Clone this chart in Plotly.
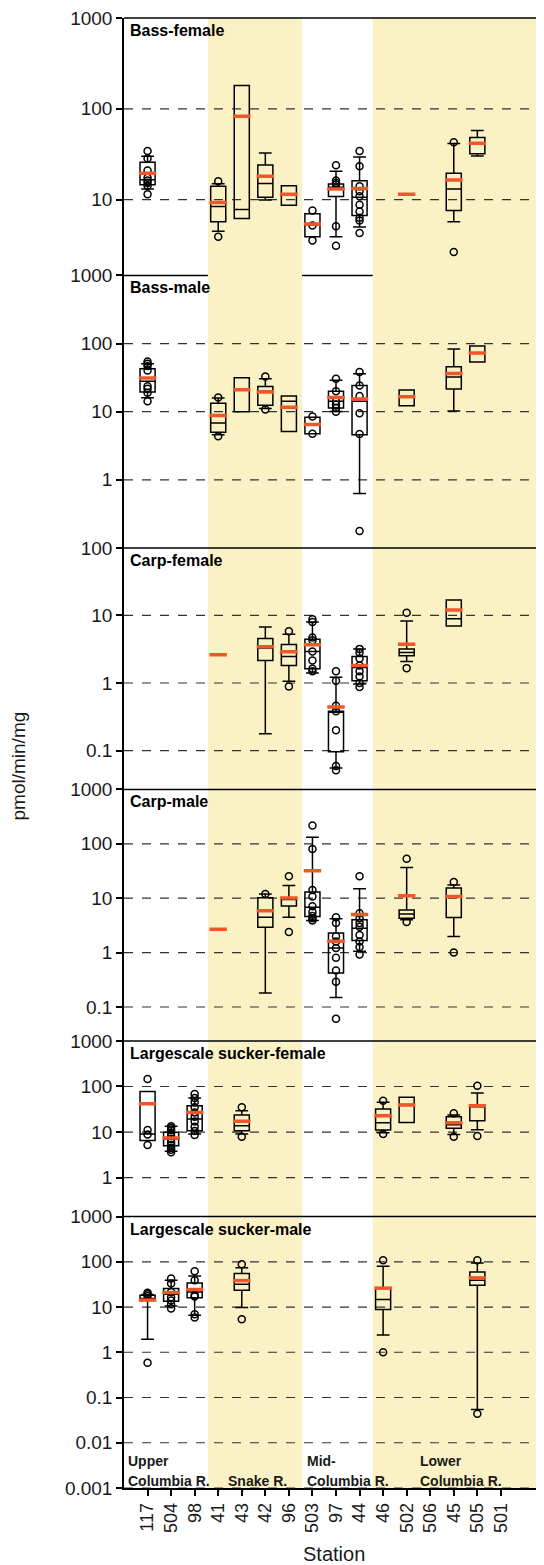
import plotly.graph_objects as go

# ---------------- data ----------------
STATIONS = ["117", "504", "98", "41", "43", "42", "96", "503", "97", "44",
            "46", "502", "506", "45", "505", "501"]

PANEL_TITLES = ["Bass-female", "Bass-male", "Carp-female", "Carp-male",
                "Largescale sucker-female", "Largescale sucker-male"]

# Bass-female
bf_station = ["117", "41", "43", "42", "96", "503", "97", "44", "502", "45", "505"]
bf_lo   = [13.1, 4.5, 6.2, 9.9, 8.7, 3.9, 3.9, 5.0, None, 5.7, 30.3]
bf_q1   = [14.6, 5.7, 6.2, 10.6, 8.7, 3.9, 10.8, 6.7, None, 7.6, 32.1]
bf_med  = [16.6, 8.4, 7.8, 15.1, 11.4, 5.3, 13.7, 10.6, None, 13.1, 41.0]
bf_q3   = [25.8, 14.0, 181, 24.1, 14.2, 7.0, 14.9, 16.1, None, 19.5, 48.3]
bf_hi   = [30.0, 15.0, 181, 32.7, 14.2, 7.0, 20.5, 29.5, None, 41.5, 57.7]
bf_mean = [19.5, 9.3, 83, 18.1, 11.5, 5.4, 13.1, 13.3, 11.5, 16.5, 41.8]
bf_pt_station = ["117"] * 8 + ["41"] * 2 + ["503"] * 3 + ["97"] * 6 + ["44"] * 10 + ["45"] * 2
bf_pt_value = [34.4, 28.3, 20.9, 17.4, 16.2, 15.3, 14.2, 11.5,
               15.9, 3.9,
               7.6, 5.2, 3.56,
               23.9, 16.2, 15.3, 14.7, 5.1, 3.1,
               34.4, 23.3, 14.0, 12.4, 10.9, 8.8, 7.4, 6.3, 5.9, 4.3,
               42.9, 2.65]

# Bass-male
bm_station = ["117", "41", "43", "42", "96", "503", "97", "44", "502", "45", "505"]
bm_lo   = [16.0, 4.6, 10.0, 11.1, 5.1, 4.75, 10.1, 0.63, 12.2, 10.2, 53.6]
bm_q1   = [19.4, 5.0, 10.0, 12.4, 5.1, 4.75, 11.3, 4.6, 12.2, 21.5, 53.6]
bm_med  = [27.9, 6.8, 21.5, 19.9, 14.2, 6.4, 14.2, 14.2, 16.8, 32.3, 73.4]
bm_q3   = [42.8, 13.3, 31.5, 23.5, 17.0, 8.3, 19.9, 24.3, 20.8, 45.7, 91.8]
bm_hi   = [50.6, 15.9, 31.5, 30.5, 17.0, 8.3, 28.9, 36.0, 20.8, 83.0, 91.8]
bm_mean = [31.2, 8.8, 21.0, 19.4, 11.6, 6.5, 16.2, 15.3, 16.6, 36.5, 72.7]
bm_pt_station = ["117"] * 8 + ["41"] * 2 + ["42"] * 2 + ["503"] * 2 + ["97"] * 6 + ["44"] * 6
bm_pt_value = [54.7, 50.6, 46.8, 40.4, 23.6, 21.7, 19.0, 14.2,
               16.2, 4.35,
               33.0, 10.8,
               8.5, 4.75,
               30.5, 19.9, 14.2, 12.7, 11.3, 10.0,
               38.2, 24.3, 17.0, 9.5, 4.7, 0.177]

# Carp-female
cf_station = ["41", "42", "96", "503", "97", "44", "502", "45"]
cf_lo   = [None, 0.177, 1.06, 1.40, 0.055, 0.97, 2.08, 7.0]
cf_q1   = [None, 2.16, 1.82, 1.63, 0.096, 1.08, 2.53, 7.0]
cf_med  = [None, 3.3, 2.47, 2.93, 0.37, 1.7, 2.83, 8.9]
cf_q3   = [None, 4.55, 3.72, 4.45, 0.38, 2.47, 3.2, 16.9]
cf_hi   = [None, 6.77, 5.28, 8.0, 1.22, 3.2, 8.3, 16.9]
cf_mean = [2.62, 3.43, 2.9, 3.67, 0.44, 1.82, 3.76, 12.0]
cf_pt_station = ["96"] * 2 + ["503"] * 8 + ["97"] * 7 + ["44"] * 8 + ["502"] * 2
cf_pt_value = [5.85, 0.89,
               8.8, 8.0, 4.7, 4.3, 2.93, 2.16, 1.63, 1.49,
               1.49, 1.08, 0.46, 0.38, 0.2, 0.059, 0.051,
               3.2, 2.8, 2.3, 1.82, 1.49, 1.25, 1.0, 0.87,
               11.0, 1.66]

# Carp-male
cm_station = ["41", "42", "96", "503", "97", "44", "502", "45"]
cm_lo   = [None, 0.18, 4.45, 3.9, 0.15, 1.06, 4.0, 1.97]
cm_q1   = [None, 2.92, 7.2, 4.6, 0.42, 1.66, 4.3, 4.4]
cm_med  = [None, 4.45, 9.5, 6.8, 1.22, 2.8, 5.1, 10.5]
cm_q3   = [None, 10.2, 10.1, 13.0, 2.3, 4.0, 6.1, 15.4]
cm_hi   = [None, 11.9, 17.2, 132, 4.2, 14.9, 36.8, 17.4]
cm_mean = [2.68, 5.9, 10.1, 32.0, 1.61, 5.0, 11.1, 10.8]
cm_pt_station = ["42"] + ["96"] * 2 + ["503"] * 9 + ["97"] * 9 + ["44"] * 9 + ["502"] * 2 + ["45"] * 2
cm_pt_value = [11.9,
               25.2, 2.4,
               217, 80, 14.1, 10.7, 7.1, 5.6, 4.7, 4.3, 3.9,
               4.45, 3.5, 2.0, 1.6, 1.22, 0.8, 0.47, 0.29, 0.061,
               25.2, 5.3, 4.3, 3.5, 3.0, 2.1, 1.6, 1.27, 0.92,
               53.0, 3.65,
               19.8, 1.0]

# Largescale sucker-female
sf_station = ["117", "504", "98", "43", "46", "502", "45", "505"]
sf_lo   = [6.5, 3.8, 9.1, 9.1, 9.7, 16.3, 8.8, 11.3]
sf_q1   = [6.5, 5.0, 10.7, 10.7, 11.1, 16.3, 12.1, 17.8]
sf_med  = [9.1, 7.0, 19.4, 13.8, 16.1, 40.0, 14.5, 36.0]
sf_q3   = [78.0, 9.9, 37.9, 23.7, 32.0, 57.8, 21.8, 37.9]
sf_hi   = [78.0, 13.4, 56.0, 29.5, 45.0, 57.8, 23.7, 72.0]
sf_mean = [42.0, 7.4, 27.0, 17.2, 22.9, 39.2, 16.1, 37.9]
sf_pt_station = ["117"] * 4 + ["504"] * 11 + ["98"] * 10 + ["43"] * 2 + ["46"] * 2 + ["45"] * 2 + ["505"] * 2
sf_pt_value = [146, 11.1, 8.8, 5.2,
               13.4, 12.2, 11.0, 9.5, 8.2, 7.0, 6.0, 5.2, 4.5, 4.1, 3.6,
               68, 56, 45, 35, 27, 21.8, 17, 13, 10.5, 8.6,
               34.9, 7.9,
               48.8, 9.1,
               25.8, 7.9,
               104, 8.2]

# Largescale sucker-male
sm_station = ["117", "504", "98", "43", "46", "505"]
sm_lo   = [1.93, 10.5, 6.6, 9.8, 2.4, 0.054]
sm_q1   = [14.2, 13.5, 16.0, 23.5, 8.8, 30.3]
sm_med  = [15.4, 19.2, 21.6, 31.9, 14.7, 39.1]
sm_q3   = [18.3, 25.6, 34.1, 54.8, 26.1, 59.6]
sm_hi   = [18.9, 39.1, 48.7, 74.3, 79.5, 94.0]
sm_mean = [14.2, 20.9, 24.4, 38.4, 26.1, 44.0]
sm_pt_station = ["117"] * 4 + ["504"] * 7 + ["98"] * 6 + ["43"] * 2 + ["46"] * 2 + ["505"] * 2
sm_pt_value = [20.6, 19.2, 17.5, 0.59,
               42.5, 33, 21.5, 16.5, 14, 11.5, 9.3,
               61.7, 39.1, 18.3, 17, 6.9, 5.9,
               88, 5.4,
               108, 1.0,
               108, 0.044]

REGION_SPANS = [("41", "96"), ("46", None)]   # shaded station groups
Y_TICKS = [[10, 100, 1000], [1, 10, 100, 1000], [0.1, 1, 10, 100],
           [0.1, 1, 10, 100, 1000], [1, 10, 100, 1000],
           [0.001, 0.01, 0.1, 1, 10, 100, 1000]]
Y_TICKTEXT = {0.001: "0.001", 0.01: "0.01", 0.1: "0.1", 1: "1", 10: "10",
              100: "100", 1000: "1000"}

PANELS = [
    (bf_station, bf_lo, bf_q1, bf_med, bf_q3, bf_hi, bf_mean, bf_pt_station, bf_pt_value),
    (bm_station, bm_lo, bm_q1, bm_med, bm_q3, bm_hi, bm_mean, bm_pt_station, bm_pt_value),
    (cf_station, cf_lo, cf_q1, cf_med, cf_q3, cf_hi, cf_mean, cf_pt_station, cf_pt_value),
    (cm_station, cm_lo, cm_q1, cm_med, cm_q3, cm_hi, cm_mean, cm_pt_station, cm_pt_value),
    (sf_station, sf_lo, sf_q1, sf_med, sf_q3, sf_hi, sf_mean, sf_pt_station, sf_pt_value),
    (sm_station, sm_lo, sm_q1, sm_med, sm_q3, sm_hi, sm_mean, sm_pt_station, sm_pt_value),
]

# ---------------- layout constants (screen pixels) ----------------
OFF = 8                      # page body margin in the browser
SCR_W, SCR_H = 544, 1565
L, T, B = 124, 15, 1488      # plot area edges on screen
W, H = SCR_W - OFF, SCR_H - OFF
PH = B - T
PW = SCR_W - L
PANEL_PX = [(15, 273), (273, 546), (546, 788), (788, 1040), (1040, 1216), (1216, 1488)]
Y_RANGES = [(0.165, 3), (-1, 3), (-1.576, 2), (-1.624, 3), (-0.854, 3), (-3, 3)]
X_RANGE = [-1.0, 16.83]
SHADE_SHIFT = 0.06

FONT = "Liberation Sans, Arial, sans-serif"
TXT = "#1a1a1a"
RED = "#F0562A"
YELLOW = "#FAF2C4"
BOX_W = 0.64
MEAN_HALF = 0.37


def idx(s):
    return STATIONS.index(s)


def py(p):
    return (B - p) / PH


def px(p):
    return (p - L) / PW


fig = go.Figure()
layout = dict(
    width=W, height=H,
    margin=dict(l=L - OFF, r=0, t=T - OFF, b=H - (B - OFF), pad=0),
    paper_bgcolor="white", plot_bgcolor="rgba(0,0,0,0)",
    showlegend=False, boxmode="overlay",
    font=dict(family=FONT, color=TXT),
)

shapes = []
annotations = []

# panel-2 top border sits beneath the shading in the original
shapes.append(dict(type="line", xref="x2 domain", yref="y2 domain", x0=0, x1=1, y0=1, y1=1,
                   line=dict(color="black", width=1.5), layer="below"))

# shaded river reaches
for a, b in REGION_SPANS:
    x0 = idx(a) - 0.5 + SHADE_SHIFT
    x1 = (idx(b) + 0.5 + SHADE_SHIFT) if b else X_RANGE[1]
    shapes.append(dict(type="rect", xref="x", yref="paper", x0=x0, x1=x1, y0=0, y1=1,
                       fillcolor=YELLOW, line=dict(width=0), layer="below"))

for i, (stn, lo, q1, med, q3, hi, mean, pst, pval) in enumerate(PANELS):
    n = i + 1
    xa = "x" if n == 1 else f"x{n}"
    ya = "y" if n == 1 else f"y{n}"
    top, bot = PANEL_PX[i]

    # dashed decade grid lines (not at the panel top)
    for v in Y_TICKS[i][:-1]:
        shapes.append(dict(type="line", xref=f"{xa} domain", yref=ya, x0=0, x1=1, y0=v, y1=v,
                           line=dict(color="#333333", width=1.2, dash="dash"), layer="below"))
    if n != 2:
        shapes.append(dict(type="line", xref=f"{xa} domain", yref=f"{ya} domain", x0=0, x1=1,
                           y0=1, y1=1, line=dict(color="black", width=1.5), layer="above"))

    # boxes
    keep = [k for k, q in enumerate(q1) if q is not None]
    fig.add_trace(go.Box(
        x=[idx(stn[k]) for k in keep],
        q1=[q1[k] for k in keep], median=[med[k] for k in keep], q3=[q3[k] for k in keep],
        lowerfence=[lo[k] for k in keep], upperfence=[hi[k] for k in keep],
        boxpoints=False, width=BOX_W, whiskerwidth=0.85,
        line=dict(color="black", width=1.5), fillcolor="rgba(0,0,0,0)",
        xaxis=xa, yaxis=ya, hoverinfo="skip"))

    # individual points
    fig.add_trace(go.Scatter(
        x=[idx(s) for s in pst], y=pval, mode="markers",
        marker=dict(symbol="circle-open", size=7, color="black", line=dict(width=1.5)),
        xaxis=xa, yaxis=ya, hoverinfo="skip"))

    # mean (red) bars
    mx, my = [], []
    for s, m in zip(stn, mean):
        c = idx(s)
        mx += [c - MEAN_HALF, c + MEAN_HALF, None]
        my += [m, m, None]
    fig.add_trace(go.Scatter(x=mx, y=my, mode="lines", line=dict(color=RED, width=3.5),
                             xaxis=xa, yaxis=ya, hoverinfo="skip"))

    last = (n == 6)
    layout[f"xaxis{'' if n == 1 else n}"] = dict(
        domain=[0, 1], range=X_RANGE, anchor=ya, type="linear",
        tickmode="array", tickvals=list(range(len(STATIONS))), ticktext=STATIONS,
        showticklabels=last, ticks="outside" if last else "", ticklen=6, tickwidth=1.5,
        tickcolor="black", tickangle=-90, tickfont=dict(size=18, family=FONT, color=TXT),
        showline=last, linecolor="black", linewidth=1.5, showgrid=False, zeroline=False,
        matches=None if n == 1 else "x", ticklabeloverflow="allow",
    )
    layout[f"yaxis{'' if n == 1 else n}"] = dict(
        domain=[py(bot), py(top)], type="log", range=list(Y_RANGES[i]), anchor=xa,
        tickmode="array", tickvals=Y_TICKS[i], ticktext=[Y_TICKTEXT[v] for v in Y_TICKS[i]],
        ticks="outside", ticklen=6, tickwidth=1.5, tickcolor="black",
        tickfont=dict(size=19, family=FONT, color=TXT), ticklabeloverflow="allow",
        showline=True, linecolor="black", linewidth=1.5, showgrid=False, zeroline=False,
    )

    annotations.append(dict(text=f"<b>{PANEL_TITLES[i]}</b>", xref="paper", yref="paper",
                            x=px(128), y=py(top), xanchor="left", yanchor="top", yshift=-2,
                            showarrow=False, font=dict(size=16, family=FONT, color="black")))

# river reach labels
for txt, xp, yp in [("Upper", 126, 1461), ("Columbia R.", 126, 1481),
                    ("Snake R.", 226, 1481),
                    ("Mid-", 305, 1461), ("Columbia R.", 305, 1481),
                    ("Lower", 418, 1461), ("Columbia R.", 418, 1481)]:
    annotations.append(dict(text=f"<b>{txt}</b>", xref="paper", yref="paper",
                            x=px(xp), y=py(yp), xanchor="left", yanchor="middle",
                            showarrow=False, font=dict(size=14, family=FONT, color=TXT)))

annotations.append(dict(text="Station", xref="paper", yref="paper", x=px(334), y=py(1554),
                        xanchor="center", yanchor="middle", showarrow=False,
                        font=dict(size=20, family=FONT, color=TXT)))
annotations.append(dict(text="pmol/min/mg", xref="paper", yref="paper", x=px(18), y=py(765),
                        xanchor="center", yanchor="middle", textangle=-90, showarrow=False,
                        font=dict(size=19, family=FONT, color=TXT)))

layout["shapes"] = shapes
layout["annotations"] = annotations
fig.update_layout(**layout)
fig.write_html("out.html")
